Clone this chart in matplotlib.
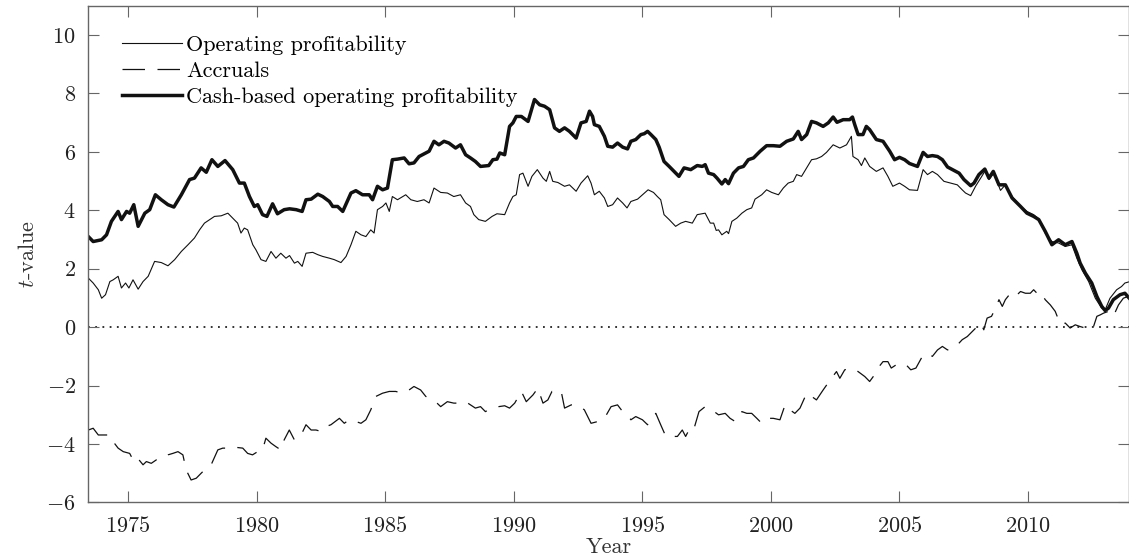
import matplotlib
matplotlib.use("Agg")
import matplotlib.pyplot as plt

plt.rcParams["font.family"] = "cmr10"
plt.rcParams["mathtext.fontset"] = "cm"
plt.rcParams["axes.formatter.use_mathtext"] = True

# cash-based operating profitability (thick)
cb_year = [1973.45, 1973.64, 1973.97, 1974.16, 1974.35, 1974.61, 1974.74, 1974.94, 1975.06, 1975.22,
           1975.39, 1975.65, 1975.84, 1976.06, 1976.29, 1976.55, 1976.78, 1977.07, 1977.39, 1977.58,
           1977.84, 1978.04, 1978.26, 1978.49, 1978.77, 1979.07, 1979.33, 1979.52, 1979.72, 1979.91,
           1980.04, 1980.23, 1980.40, 1980.62, 1980.81, 1981.07, 1981.28, 1981.54, 1981.77, 1981.92,
           1982.12, 1982.38, 1982.57, 1982.83, 1982.96, 1983.15, 1983.35, 1983.67, 1983.86, 1984.12,
           1984.38, 1984.51, 1984.70, 1984.90, 1985.09, 1985.28, 1985.48, 1985.74, 1985.93, 1986.12,
           1986.32, 1986.58, 1986.71, 1986.90, 1987.09, 1987.29, 1987.48, 1987.74, 1987.93, 1988.13,
           1988.32, 1988.51, 1988.71, 1989.03, 1989.19, 1989.35, 1989.46, 1989.65, 1989.84, 1989.97,
           1990.10, 1990.30, 1990.56, 1990.81, 1991.01, 1991.20, 1991.40, 1991.59, 1991.78, 1991.98,
           1992.17, 1992.43, 1992.62, 1992.82, 1992.95, 1993.07, 1993.14, 1993.33, 1993.53, 1993.66,
           1993.85, 1994.04, 1994.24, 1994.43, 1994.56, 1994.75, 1994.95, 1995.08, 1995.21, 1995.34,
           1995.53, 1995.66, 1995.85, 1996.05, 1996.24, 1996.43, 1996.63, 1996.89, 1997.14, 1997.34,
           1997.45, 1997.58, 1997.78, 1997.91, 1998.10, 1998.23, 1998.36, 1998.55, 1998.75, 1998.94,
           1999.13, 1999.33, 1999.59, 1999.84, 2000.10, 2000.36, 2000.62, 2000.88, 2001.07, 2001.20,
           2001.40, 2001.59, 2001.78, 2002.04, 2002.24, 2002.43, 2002.58, 2002.82, 2003.07, 2003.18,
           2003.27, 2003.40, 2003.59, 2003.72, 2003.85, 2004.11, 2004.37, 2004.63, 2004.82, 2005.01,
           2005.21, 2005.40, 2005.71, 2005.93, 2006.10, 2006.29, 2006.49, 2006.68, 2006.88, 2007.07,
           2007.33, 2007.52, 2007.78, 2007.91, 2008.10, 2008.33, 2008.49, 2008.66, 2008.88, 2009.13,
           2009.39, 2009.72, 2009.97, 2010.23, 2010.43, 2010.68, 2010.94, 2011.20, 2011.46, 2011.72,
           2011.91, 2012.04, 2012.24, 2012.49, 2012.69, 2012.88, 2013.01, 2013.14, 2013.33, 2013.59,
           2013.78, 2013.94]
cb_t = [3.10, 2.93, 2.99, 3.16, 3.62, 3.96, 3.68, 3.96, 3.90, 4.19,
        3.45, 3.90, 4.02, 4.53, 4.36, 4.19, 4.11, 4.53, 5.05, 5.10,
        5.45, 5.30, 5.73, 5.50, 5.70, 5.39, 4.93, 4.93, 4.47, 4.13,
        4.19, 3.85, 3.79, 4.22, 3.88, 4.02, 4.05, 4.02, 3.96, 4.36,
        4.38, 4.55, 4.47, 4.30, 4.13, 4.13, 3.96, 4.59, 4.67, 4.53,
        4.53, 4.36, 4.82, 4.70, 4.76, 5.73, 5.75, 5.79, 5.59, 5.62,
        5.84, 5.96, 6.02, 6.36, 6.24, 6.36, 6.30, 6.13, 6.24, 5.90,
        5.79, 5.67, 5.50, 5.53, 5.73, 5.75, 5.96, 5.90, 6.87, 6.99,
        7.21, 7.21, 7.04, 7.79, 7.61, 7.56, 7.44, 6.82, 6.70, 6.82,
        6.70, 6.47, 6.99, 7.04, 7.39, 7.21, 6.93, 6.87, 6.53, 6.19,
        6.16, 6.30, 6.16, 6.10, 6.36, 6.42, 6.59, 6.62, 6.70, 6.59,
        6.42, 6.16, 5.67, 5.50, 5.33, 5.16, 5.45, 5.39, 5.53, 5.50,
        5.56, 5.27, 5.22, 5.10, 4.90, 5.05, 4.91, 5.27, 5.45, 5.50,
        5.73, 5.79, 6.02, 6.21, 6.21, 6.19, 6.36, 6.44, 6.70, 6.42,
        6.59, 7.04, 6.99, 6.87, 6.99, 7.19, 7.01, 7.10, 7.10, 7.19,
        6.93, 6.59, 6.59, 6.87, 6.76, 6.42, 6.36, 6.02, 5.73, 5.81,
        5.73, 5.60, 5.50, 5.98, 5.84, 5.87, 5.84, 5.73, 5.48, 5.39,
        5.27, 5.05, 4.84, 4.93, 5.22, 5.41, 5.10, 5.33, 4.87, 4.87,
        4.42, 4.13, 3.90, 3.79, 3.68, 3.28, 2.82, 2.99, 2.82, 2.93,
        2.53, 2.19, 1.85, 1.51, 1.05, 0.71, 0.57, 0.65, 0.94, 1.11,
        1.16, 1.00]

# operating profitability (thin)
op_year = [1973.45, 1973.64, 1973.84, 1973.97, 1974.12, 1974.29, 1974.42, 1974.61, 1974.74, 1974.90,
           1975.03, 1975.19, 1975.39, 1975.58, 1975.78, 1976.03, 1976.29, 1976.55, 1976.81, 1977.07,
           1977.33, 1977.58, 1977.78, 1977.97, 1978.17, 1978.36, 1978.62, 1978.88, 1979.07, 1979.26,
           1979.39, 1979.52, 1979.65, 1979.85, 1979.97, 1980.17, 1980.36, 1980.56, 1980.75, 1980.94,
           1981.14, 1981.28, 1981.47, 1981.60, 1981.77, 1981.92, 1982.18, 1982.38, 1982.57, 1982.83,
           1983.02, 1983.28, 1983.48, 1983.67, 1983.86, 1984.06, 1984.25, 1984.44, 1984.57, 1984.70,
           1984.90, 1985.03, 1985.16, 1985.28, 1985.48, 1985.80, 1986.00, 1986.25, 1986.51, 1986.71,
           1986.90, 1987.16, 1987.42, 1987.67, 1987.93, 1988.13, 1988.32, 1988.45, 1988.64, 1988.90,
           1989.16, 1989.35, 1989.65, 1989.84, 1989.97, 1990.10, 1990.23, 1990.36, 1990.56, 1990.71,
           1990.92, 1991.14, 1991.27, 1991.40, 1991.52, 1991.72, 1991.98, 1992.17, 1992.43, 1992.62,
           1992.88, 1993.01, 1993.14, 1993.33, 1993.53, 1993.66, 1993.85, 1994.04, 1994.24, 1994.41,
           1994.56, 1994.82, 1995.01, 1995.23, 1995.44, 1995.59, 1995.72, 1995.85, 1996.05, 1996.30,
           1996.50, 1996.69, 1996.95, 1997.14, 1997.34, 1997.45, 1997.65, 1997.78, 1997.88, 1997.97,
           1998.10, 1998.29, 1998.36, 1998.49, 1998.68, 1998.88, 1999.07, 1999.26, 1999.39, 1999.65,
           1999.84, 2000.04, 2000.30, 2000.49, 2000.68, 2000.88, 2001.01, 2001.20, 2001.40, 2001.59,
           2001.78, 2001.98, 2002.17, 2002.43, 2002.69, 2002.95, 2003.14, 2003.20, 2003.40, 2003.53,
           2003.66, 2003.85, 2004.11, 2004.37, 2004.56, 2004.75, 2005.01, 2005.21, 2005.40, 2005.71,
           2005.93, 2006.10, 2006.29, 2006.49, 2006.74, 2007.00, 2007.26, 2007.45, 2007.58, 2007.78,
           2007.97, 2008.17, 2008.36, 2008.49, 2008.68, 2008.94, 2009.13, 2009.39, 2009.72, 2009.97,
           2010.23, 2010.43, 2010.68, 2010.94, 2011.20, 2011.46, 2011.72, 2011.91, 2012.11, 2012.37,
           2012.63, 2012.88, 2013.01, 2013.20, 2013.46, 2013.65, 2013.78, 2013.94]
op_t = [1.68, 1.51, 1.28, 0.99, 1.11, 1.56, 1.62, 1.74, 1.34, 1.51,
        1.34, 1.62, 1.30, 1.56, 1.74, 2.25, 2.21, 2.10, 2.31, 2.59,
        2.82, 3.05, 3.33, 3.56, 3.68, 3.79, 3.81, 3.90, 3.73, 3.56,
        3.22, 3.39, 3.33, 2.82, 2.65, 2.31, 2.25, 2.59, 2.36, 2.53,
        2.36, 2.45, 2.19, 2.25, 2.08, 2.53, 2.56, 2.48, 2.42, 2.36,
        2.31, 2.21, 2.42, 2.82, 3.28, 3.16, 3.10, 3.33, 3.22, 4.02,
        4.13, 4.25, 3.96, 4.47, 4.36, 4.53, 4.36, 4.30, 4.36, 4.25,
        4.76, 4.61, 4.59, 4.47, 4.53, 4.25, 4.13, 3.85, 3.68, 3.62,
        3.79, 3.88, 3.85, 4.25, 4.47, 4.53, 5.22, 5.27, 4.82, 5.16,
        5.39, 5.10, 4.99, 5.33, 4.99, 4.95, 4.82, 4.87, 4.65, 4.93,
        5.18, 4.93, 4.53, 4.65, 4.42, 4.13, 4.19, 4.42, 4.25, 4.08,
        4.30, 4.38, 4.53, 4.70, 4.61, 4.47, 4.36, 3.85, 3.68, 3.45,
        3.56, 3.62, 3.56, 3.85, 3.88, 3.90, 3.56, 3.56, 3.31, 3.33,
        3.16, 3.28, 3.20, 3.62, 3.73, 3.90, 4.02, 4.08, 4.38, 4.53,
        4.70, 4.61, 4.53, 4.76, 4.93, 4.99, 5.22, 5.16, 5.45, 5.73,
        5.76, 5.84, 5.98, 6.24, 6.13, 6.24, 6.53, 5.84, 5.73, 5.53,
        5.79, 5.50, 5.33, 5.45, 5.16, 4.82, 4.93, 4.82, 4.70, 4.68,
        5.39, 5.22, 5.33, 5.22, 4.99, 4.93, 4.87, 4.70, 4.59, 4.50,
        4.82, 5.10, 5.37, 5.05, 5.27, 4.68, 4.87, 4.47, 4.13, 3.96,
        3.85, 3.70, 3.22, 2.93, 2.88, 2.76, 2.82, 2.36, 1.96, 1.56,
        0.99, 0.65, 0.59, 0.99, 1.28, 1.39, 1.51, 1.55]

# accruals (dashed)
ac_year = [1973.45, 1973.64, 1973.84, 1974.10, 1974.29, 1974.42, 1974.61, 1974.81, 1975.06, 1975.19,
           1975.32, 1975.58, 1975.71, 1975.90, 1976.10, 1976.36, 1976.55, 1976.74, 1976.94, 1977.13,
           1977.26, 1977.45, 1977.65, 1977.84, 1978.04, 1978.23, 1978.49, 1978.68, 1978.88, 1979.07,
           1979.26, 1979.46, 1979.65, 1979.84, 1980.04, 1980.23, 1980.36, 1980.56, 1980.75, 1980.94,
           1981.07, 1981.27, 1981.47, 1981.73, 1981.92, 1982.12, 1982.31, 1982.51, 1982.70, 1982.89,
           1983.22, 1983.41, 1983.60, 1983.86, 1984.06, 1984.25, 1984.44, 1984.64, 1984.90, 1985.16,
           1985.41, 1985.67, 1985.93, 1986.12, 1986.38, 1986.58, 1986.96, 1987.16, 1987.42, 1987.67,
           1987.93, 1988.13, 1988.32, 1988.51, 1988.71, 1988.90, 1989.16, 1989.42, 1989.65, 1989.84,
           1990.04, 1990.30, 1990.49, 1990.75, 1990.94, 1991.14, 1991.33, 1991.49, 1991.65, 1991.85,
           1991.98, 1992.24, 1992.49, 1992.75, 1993.01, 1993.27, 1993.53, 1993.79, 1994.04, 1994.24,
           1994.43, 1994.56, 1994.75, 1995.01, 1995.21, 1995.34, 1995.53, 1995.72, 1995.92, 1996.11,
           1996.37, 1996.56, 1996.69, 1996.89, 1997.02, 1997.21, 1997.45, 1997.71, 1997.97, 1998.23,
           1998.42, 1998.62, 1998.88, 1999.07, 1999.26, 1999.46, 1999.65, 1999.91, 2000.10, 2000.36,
           2000.56, 2000.75, 2000.94, 2001.14, 2001.40, 2001.59, 2001.78, 2002.04, 2002.36, 2002.56,
           2002.69, 2002.88, 2003.14, 2003.40, 2003.66, 2003.85, 2004.04, 2004.17, 2004.37, 2004.56,
           2004.69, 2004.88, 2005.08, 2005.27, 2005.45, 2005.65, 2005.90, 2006.10, 2006.29, 2006.49,
           2006.68, 2006.88, 2007.07, 2007.26, 2007.45, 2007.65, 2007.84, 2007.97, 2008.17, 2008.29,
           2008.42, 2008.59, 2008.75, 2008.88, 2009.01, 2009.13, 2009.33, 2009.52, 2009.72, 2009.91,
           2010.10, 2010.23, 2010.36, 2010.49, 2010.68, 2010.88, 2011.07, 2011.20, 2011.33, 2011.46,
           2011.65, 2011.85, 2012.04, 2012.24, 2012.43, 2012.56, 2012.69, 2012.82, 2012.95, 2013.14,
           2013.33, 2013.53, 2013.72, 2013.90]
ac_t = [-3.52, -3.46, -3.69, -3.69, -3.69, -3.92, -4.14, -4.26, -4.32, -4.54,
        -4.43, -4.71, -4.60, -4.66, -4.54, -4.49, -4.37, -4.32, -4.26, -4.37,
        -4.89, -5.23, -5.17, -5.00, -4.83, -4.71, -4.20, -4.14, -4.14, -4.09,
        -4.12, -4.14, -4.32, -4.37, -4.26, -4.20, -3.80, -3.97, -4.09, -4.20,
        -3.86, -3.52, -3.86, -3.69, -3.34, -3.52, -3.52, -3.57, -3.40, -3.34,
        -3.12, -3.29, -3.17, -3.23, -3.29, -3.17, -2.83, -2.37, -2.26, -2.20,
        -2.20, -2.26, -2.15, -2.03, -2.15, -2.37, -2.55, -2.72, -2.55, -2.60,
        -2.60, -2.55, -2.66, -2.77, -2.72, -2.89, -2.77, -2.72, -2.69, -2.77,
        -2.60, -2.20, -2.55, -2.32, -2.09, -2.60, -2.49, -2.20, -2.26, -2.20,
        -2.77, -2.66, -2.66, -2.83, -3.29, -3.23, -3.12, -2.72, -2.66, -2.89,
        -3.00, -3.17, -3.06, -3.17, -3.34, -3.12, -2.95, -3.34, -3.74, -3.74,
        -3.74, -3.52, -3.74, -3.40, -3.46, -2.89, -2.72, -2.83, -3.00, -2.95,
        -3.12, -3.23, -2.89, -2.95, -2.95, -3.12, -3.29, -3.12, -3.12, -3.17,
        -2.66, -2.83, -2.95, -2.77, -2.26, -2.37, -2.49, -2.15, -1.75, -1.52,
        -1.75, -1.46, -1.40, -1.52, -1.69, -1.86, -1.63, -1.40, -1.18, -1.18,
        -1.40, -1.29, -1.23, -1.29, -1.46, -1.40, -1.00, -0.89, -1.00, -0.78,
        -0.66, -0.78, -0.72, -0.61, -0.43, -0.32, -0.15, -0.03, 0.14, -0.09,
        0.31, 0.37, 0.65, 0.94, 0.71, 0.94, 1.16, 1.05, 1.22, 1.16,
        1.16, 1.28, 1.16, 1.22, 0.94, 0.76, 0.54, 0.25, 0.08, 0.14,
        -0.03, 0.08, 0.02, -0.03, -0.11, 0.02, 0.37, 0.42, 0.48, 0.54,
        0.37, 0.76, 0.99, 1.05]

y_ticks = [-6, -4, -2, 0, 2, 4, 6, 8, 10]
x_ticks = [1975, 1980, 1985, 1990, 1995, 2000, 2005, 2010]

fig = plt.figure(figsize=(11.29, 5.59), dpi=100)
ax = fig.add_axes([0.0782, 0.1011, 0.9218, 0.8887])

ax.axhline(0, color="#222222", lw=1.3, linestyle=(0, (1, 3)), zorder=1)
ax.plot(op_year, op_t, color="#111111", lw=0.8, label="Operating profitability")
ax.plot(ac_year, ac_t, color="#111111", lw=0.9, dashes=(18, 10), label="Accruals")
ax.plot(cb_year, cb_t, color="#111111", lw=2.5, label="Cash-based operating profitability")

ax.set_xlim(1973.45, 2013.94)
ax.set_ylim(-6, 11)
ax.set_xticks(x_ticks)
ax.set_yticks(y_ticks)

for s in ax.spines.values():
    s.set_color("#666666")
    s.set_linewidth(1.0)
ax.tick_params(direction="in", top=True, right=True, length=8, width=0.8,
               color="#666666", labelsize=16, labelcolor="#222222")
ax.tick_params(axis="x", pad=10)
ax.tick_params(axis="y", pad=9)

ax.set_xlabel("Year", fontsize=16, color="#333333", labelpad=0.5)
ax.set_ylabel("$t$-value", fontsize=16, color="#333333", labelpad=6)

ax.legend(loc="upper left", bbox_to_anchor=(0.0324, 0.941), frameon=False, fontsize=16,
          handlelength=2.7, handletextpad=0.2, labelspacing=0.3, borderpad=0, borderaxespad=0)

fig.savefig("out.png", dpi=100)
